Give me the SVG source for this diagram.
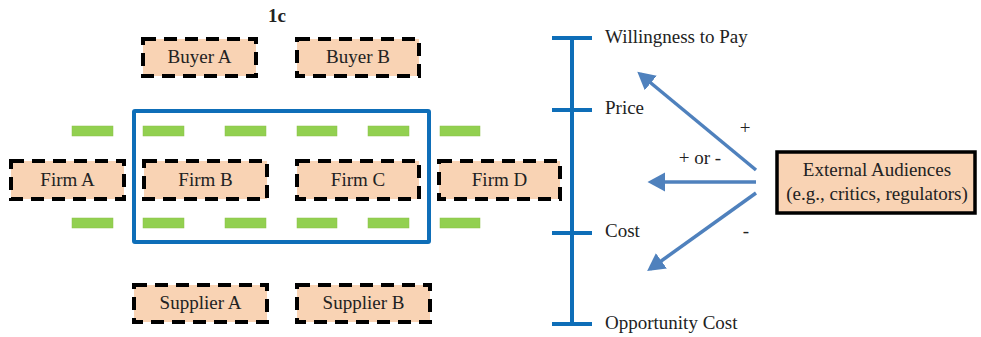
<svg xmlns="http://www.w3.org/2000/svg" width="981" height="337" viewBox="0 0 981 337">
  <defs>
    <style>
      .lbl { font-family: "Liberation Serif", "Times New Roman", serif; font-size: 19px; fill: #222; }
      .node { fill: #F9D3B4; stroke: #000; stroke-width: 4; stroke-dasharray: 13 8; }
      .ext { fill: #F9D3B4; stroke: #000; stroke-width: 3.5; }
      .bar { fill: #92D050; stroke: #8AC048; stroke-width: 0.5; }
      .axis { stroke: #0E6EB8; stroke-width: 4; fill: none; }
      .arrow { stroke: #4F81BD; stroke-width: 3.5; fill: none; marker-end: url(#head); }
    </style>
    <marker id="head" markerWidth="6" markerHeight="6" refX="4" refY="3" orient="auto" markerUnits="strokeWidth">
      <path d="M0,0.3 L5,3 L0,5.7 z" fill="#4F81BD"/>
    </marker>
  </defs>

  <rect width="981" height="337" fill="#fff"/>

  <!-- title -->
  <text x="277" y="22" text-anchor="middle" class="lbl" font-weight="bold">1c</text>

  <!-- industry boundary -->
  <rect x="134" y="111" width="295" height="131" fill="none" stroke="#0E6EB8" stroke-width="4" rx="1"/>

  <!-- green bars -->
  <g id="bars">
    <rect class="bar" x="72" y="126" width="41" height="10"/>
    <rect class="bar" x="143" y="126" width="41" height="10"/>
    <rect class="bar" x="225" y="126" width="41" height="10"/>
    <rect class="bar" x="297" y="126" width="40" height="10"/>
    <rect class="bar" x="368" y="126" width="41" height="10"/>
    <rect class="bar" x="440" y="126" width="40" height="10"/>
    <rect class="bar" x="72" y="218" width="41" height="10"/>
    <rect class="bar" x="143" y="218" width="41" height="10"/>
    <rect class="bar" x="225" y="218" width="41" height="10"/>
    <rect class="bar" x="297" y="218" width="40" height="10"/>
    <rect class="bar" x="368" y="218" width="41" height="10"/>
    <rect class="bar" x="440" y="218" width="40" height="10"/>
  </g>

  <g id="buyer-a"><rect class="node" x="143" y="39" width="113" height="37"/><text class="lbl" x="199.5" y="63" text-anchor="middle">Buyer A</text></g>
  <g id="buyer-b"><rect class="node" x="297" y="39" width="122" height="37"/><text class="lbl" x="358" y="63" text-anchor="middle">Buyer B</text></g>

  <g id="firm-a"><rect class="node" x="11" y="161" width="113" height="38"/><text class="lbl" x="67.5" y="186" text-anchor="middle">Firm A</text></g>
  <g id="firm-b"><rect class="node" x="144" y="161" width="123" height="38"/><text class="lbl" x="205.5" y="186" text-anchor="middle">Firm B</text></g>
  <g id="firm-c"><rect class="node" x="297" y="161" width="122" height="38"/><text class="lbl" x="358" y="186" text-anchor="middle">Firm C</text></g>
  <g id="firm-d"><rect class="node" x="439" y="161" width="121" height="38"/><text class="lbl" x="499.5" y="186" text-anchor="middle">Firm D</text></g>

  <g id="supplier-a"><rect class="node" x="134" y="285" width="133" height="37"/><text class="lbl" x="200.5" y="309" text-anchor="middle">Supplier A</text></g>
  <g id="supplier-b"><rect class="node" x="297" y="285" width="133" height="37"/><text class="lbl" x="363.5" y="309" text-anchor="middle">Supplier B</text></g>

  <!-- value scale -->
  <g id="scale">
    <line class="axis" x1="572" y1="37" x2="572" y2="325"/>
    <line class="axis" x1="552" y1="38" x2="592" y2="38"/>
    <line class="axis" x1="552" y1="110" x2="592" y2="110"/>
    <line class="axis" x1="552" y1="233" x2="592" y2="233"/>
    <line class="axis" x1="552" y1="324" x2="592" y2="324"/>
    <text class="lbl" x="605" y="43">Willingness to Pay</text>
    <text class="lbl" x="605" y="114">Price</text>
    <text class="lbl" x="605" y="237">Cost</text>
    <text class="lbl" x="605" y="329">Opportunity Cost</text>
  </g>

  <g id="external-audiences">
    <rect class="ext" x="777" y="152" width="198" height="61"/>
    <text class="lbl" x="877" y="176" text-anchor="middle">External Audiences</text>
    <text class="lbl" x="877" y="200" text-anchor="middle">(e.g., critics, regulators)</text>
  </g>

  <!-- influence arrows -->
  <g id="connectors">
    <line class="arrow" x1="756" y1="170" x2="640" y2="74"/>
    <line class="arrow" x1="756" y1="182" x2="651" y2="182"/>
    <line class="arrow" x1="756" y1="193" x2="650" y2="269"/>
    <text class="lbl" x="745" y="134" text-anchor="middle">+</text>
    <text class="lbl" x="700" y="164" text-anchor="middle">+ or -</text>
    <text class="lbl" x="746" y="237" text-anchor="middle">-</text>
  </g>
</svg>
